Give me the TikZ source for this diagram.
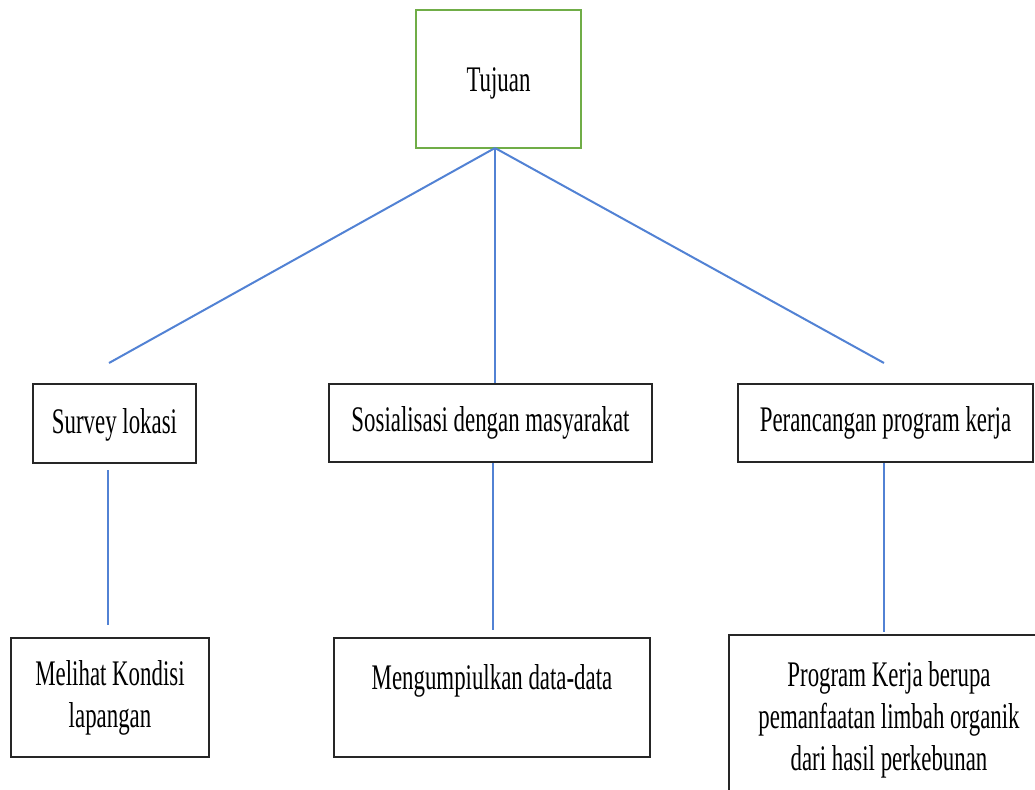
\documentclass[tikz,border=0pt]{standalone}
\usepackage{fontspec}
\setmainfont[FakeStretch=0.635]{Liberation Serif}
\definecolor{boxgreen}{RGB}{112,173,71}
\definecolor{lineblue}{RGB}{82,130,212}
\begin{document}
\begin{tikzpicture}[x=1pt,y=-1pt,
  box/.style={draw=black!85,line width=2.2pt,rectangle,inner sep=0pt,align=center,
    font=\fontsize{36}{42}\selectfont},
  goal/.style={draw=boxgreen,line width=2pt,rectangle,inner sep=0pt,align=center,
    font=\fontsize{36}{42}\selectfont},
  link/.style={draw=lineblue,line width=2pt}]
\useasboundingbox (0,0) rectangle (1035,789);
\clip (0,0) rectangle (1035,789);
% top
\node[goal,minimum width=165pt,minimum height=138pt] (tujuan) at (498.5,79) {\raisebox{-13pt}[0pt][0pt]{Tujuan}};
% middle row
\node[box,minimum width=163pt,minimum height=79pt] (survey) at (114.5,423.5) {\raisebox{-10pt}[0pt][0pt]{Survey lokasi}};
\node[box,minimum width=323pt,minimum height=78pt] (sos) at (490.5,423) {Sosialisasi dengan masyarakat};
\node[box,minimum width=295pt,minimum height=78pt] (per) at (885.5,423) {Perancangan program kerja};
% bottom row
\node[box,minimum width=198pt,minimum height=119pt] (melihat) at (110,697.5) {Melihat Kondisi\\lapangan};
\node[box,minimum width=316pt,minimum height=119pt] (meng) at (492,697.5) {\raisebox{40pt}{Mengumpiulkan data-data}};
\node[box,minimum width=320pt,minimum height=170pt] (prog) at (889,720) {Program Kerja berupa\\pemanfaatan limbah organik\\dari hasil perkebunan};
% free ends
\coordinate (apex) at (495,148);
\coordinate (leftend) at (109,363);
\coordinate (rightend) at (884,363);
\coordinate (l1) at (108,470);
\coordinate (l2) at (108,625);
\coordinate (m2) at (493,630);
\coordinate (r2) at (884,632);
% connectors
\draw[link] (apex) -- (leftend);
\draw[link] (apex) -- (sos.north -| apex);
\draw[link] (apex) -- (rightend);
\draw[link] (l1) -- (l2);
\draw[link] (sos.south -| m2) -- (m2);
\draw[link] (per.south -| r2) -- (r2);
\end{tikzpicture}
\end{document}
